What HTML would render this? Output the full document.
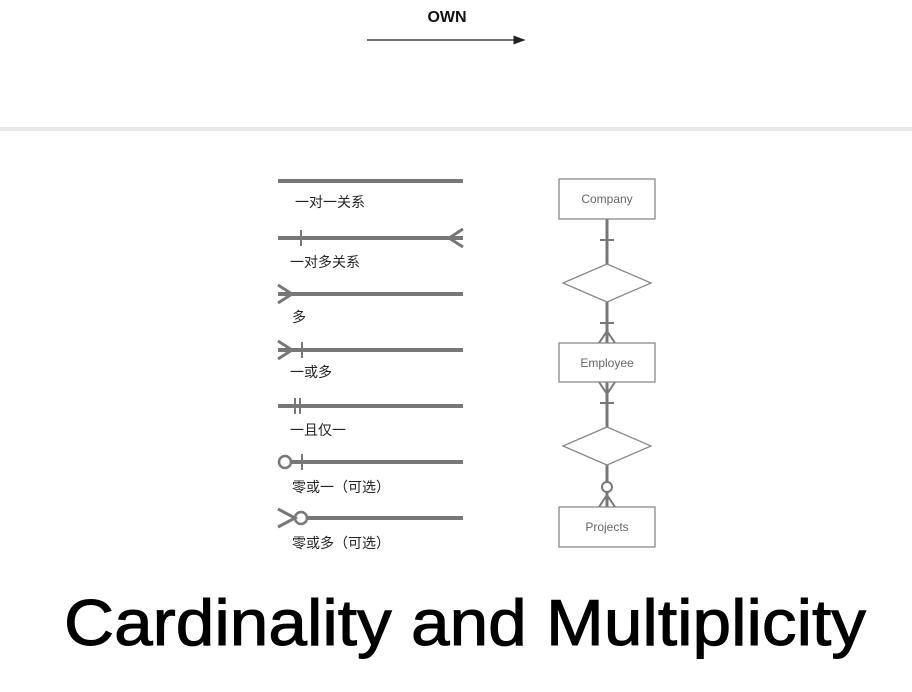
<!DOCTYPE html>
<html><head><meta charset="utf-8"><style>body{margin:0;background:#fff}svg{display:block}</style></head>
<body>
<svg width="912" height="692" viewBox="0 0 912 692" xmlns="http://www.w3.org/2000/svg">
<defs><marker id="ah" markerWidth="8" markerHeight="6" refX="7" refY="3" orient="auto"><path d="M0,0 L8,3 L0,6z" fill="#222"/></marker></defs>
<text x="447" y="22" font-family="Liberation Sans, sans-serif" font-weight="bold" font-size="16" text-anchor="middle" fill="#111">OWN</text>
<line x1="367" y1="40" x2="524" y2="40" stroke="#444" stroke-width="1.5" marker-end="url(#ah)"/>
<rect x="0" y="127" width="912" height="4" fill="#e8e8e8"/>
<g stroke="#777" stroke-width="4" fill="none">
<line x1="278" y1="181" x2="463" y2="181"/>
<line x1="278" y1="238" x2="463" y2="238"/>
<line x1="301" y1="230" x2="301" y2="246" stroke-width="2"/>
<path d="M463,229 L449,238 L463,247" stroke-width="3"/>
<line x1="278" y1="294" x2="463" y2="294"/>
<path d="M278,285 L292,294 L278,303" stroke-width="3"/>
<line x1="278" y1="350" x2="463" y2="350"/>
<path d="M278,341 L292,350 L278,359" stroke-width="3"/>
<line x1="302" y1="342" x2="302" y2="358" stroke-width="2"/>
<line x1="278" y1="406" x2="463" y2="406"/>
<line x1="295" y1="398" x2="295" y2="414" stroke-width="2"/>
<line x1="300" y1="398" x2="300" y2="414" stroke-width="2"/>
<line x1="291" y1="462" x2="463" y2="462"/>
<circle cx="285" cy="462" r="6" stroke-width="2.5"/>
<line x1="302" y1="454" x2="302" y2="470" stroke-width="2"/>
<line x1="307" y1="518" x2="463" y2="518"/>
<path d="M278,509 L295,518 L278,527" stroke-width="3"/>
<circle cx="301" cy="518" r="6" stroke-width="2.5"/>
</g>
<g font-family="Liberation Sans, Noto Sans CJK SC, sans-serif" font-size="14" fill="#222">
<text x="295" y="207">一对一关系</text>
<text x="290" y="267">一对多关系</text>
<text x="292" y="322">多</text>
<text x="290" y="377">一或多</text>
<text x="290" y="435">一且仅一</text>
<text x="292" y="492">零或一（可选）</text>
<text x="292" y="548">零或多（可选）</text>
</g>
<g stroke="#777" fill="none">
<line x1="607" y1="219" x2="607" y2="343" stroke-width="3"/>
<line x1="607" y1="382" x2="607" y2="507" stroke-width="3"/>
<line x1="600" y1="240" x2="614" y2="240" stroke-width="2"/>
<line x1="600" y1="323" x2="614" y2="323" stroke-width="2"/>
<path d="M599,343 L607,331 L615,343" stroke-width="2"/>
<path d="M599,382 L607,394 L615,382" stroke-width="2"/>
<line x1="600" y1="403" x2="614" y2="403" stroke-width="2"/>
<path d="M599,507 L607,495 L615,507" stroke-width="2"/>
</g>
<circle cx="607" cy="487" r="5" fill="#fff" stroke="#777" stroke-width="2"/>
<g stroke="#888" stroke-width="1.3" fill="#fff">
<rect x="559" y="179" width="96" height="40"/>
<rect x="559" y="343" width="96" height="39"/>
<rect x="559" y="507" width="96" height="40"/>
<path d="M607,264 L651,283 L607,302 L563,283z"/>
<path d="M607,427 L651,446 L607,465 L563,446z"/>
</g>
<g font-family="Liberation Sans, sans-serif" font-size="12" fill="#666" text-anchor="middle">
<text x="607" y="203">Company</text>
<text x="607" y="367">Employee</text>
<text x="607" y="531">Projects</text>
</g>
<text x="64" y="645" font-family="Liberation Sans, sans-serif" font-size="65" fill="#000" stroke="#000" stroke-width="1" textLength="802" lengthAdjust="spacingAndGlyphs">Cardinality and Multiplicity</text>
</svg>
</body></html>
